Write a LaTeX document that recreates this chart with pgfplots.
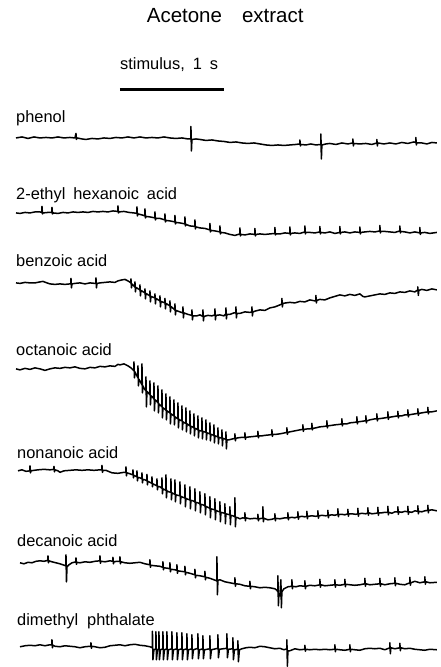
\documentclass[border=0pt]{standalone}
\usepackage{pgfplots}
\pgfplotsset{compat=1.18}
\usepackage{fontspec}
\setmainfont{Liberation Sans}
\newcommand{\lbl}{\fontsize{16.4}{18}\selectfont}
\pgfplotsset{trace/.style={black, line width=1.5pt, line join=round, no markers}}
\begin{document}
\begin{tikzpicture}
\begin{axis}[width=441pt, height=667pt, scale only axis,
  xmin=0, xmax=441, ymin=0, ymax=667, y dir=reverse,
  hide axis, clip=false]
\path (rel axis cs:0,0) rectangle (rel axis cs:1,1);
% title and stimulus
\node[anchor=base west, inner sep=0pt, font=\fontsize{20.5}{22}\selectfont] at (axis cs:146.7,22.7) {Acetone\hspace{20pt}extract};
\node[anchor=base west, inner sep=0pt, font=\lbl] at (axis cs:120,70) {stimulus,\hspace{8pt}1\hspace{8pt}s};
\addplot[black, line width=2.5pt, no markers] coordinates {(120,89.5)(224,89.5)};
% labels
\node[anchor=base west, inner sep=0pt, font=\lbl] at (axis cs:16,123) {phenol};
\node[anchor=base west, inner sep=0pt, font=\lbl] at (axis cs:16,200) {2-ethyl\hspace{8pt}hexanoic\hspace{8pt}acid};
\node[anchor=base west, inner sep=0pt, font=\lbl] at (axis cs:16,267) {benzoic acid};
\node[anchor=base west, inner sep=0pt, font=\lbl] at (axis cs:16,356) {octanoic acid};
\node[anchor=base west, inner sep=0pt, font=\lbl] at (axis cs:17,458.5) {nonanoic acid};
\node[anchor=base west, inner sep=0pt, font=\lbl] at (axis cs:17,546.5) {decanoic acid};
\node[anchor=base west, inner sep=0pt, font=\lbl] at (axis cs:17,625.5) {dimethyl\hspace{9pt}phthalate};
% phenol
\addplot[trace] coordinates {(16,138)(22,137)(28,138.5)(34,137)(40,138)(46,137.5)(52,138)(58,137)(64,138)(70,137.5)(75,138)(76,133.5)(76.5,139.5)(77,138)(82,139)(86,139.5)(92,138.5)(98,139)(104,138)(110,138.5)(116,137.5)(122,138)(128,137)(134,138)(140,137)(146,138)(152,137.5)(158,138)(164,137)(170,138)(176,138.5)(182,138)(188,139)(191,139)(191,126.5)(191.5,151)(192,139.5)(196,139)(200,139.5)(206,140.5)(212,140)(218,141)(224,141.5)(230,142.5)(236,142)(242,143)(248,143.5)(254,143)(260,144)(266,145)(272,145.5)(278,145)(284,145.5)(290,145)(296,144.5)(300,144)(300,140)(300.5,146)(301,144.5)(306,145)(311,144)(316,145)(321,144.5)(321,134)(321.5,159)(322,145)(326,144)(330,143.5)(336,144.5)(342,143)(348,144)(353,143)(353,139)(353.5,146)(354,143.5)(360,144)(366,143.5)(372,144.5)(377,143)(377,139.5)(377.5,146)(378,143)(384,144)(390,143)(396,144)(402,142.5)(408,143.5)(414,142)(416,142.5)(416,137.5)(416.5,145)(417,143)(422,143)(427,144)(432,142.5)(437,143)};
% 2-ethyl hexanoic acid
\addplot[trace] coordinates {(16,213)(20,213.5)(25,212.5)(30,213)(35,212)(40,212)(42,212.5)(42,206.5)(42.5,214)(43,213)(48,212.5)(52,212.5)(52,207.5)(52.5,214)(53,213)(58,213.5)(63,212.5)(68,213)(73,212)(78,212.5)(83,212)(88,212.5)(93,211.5)(98,212)(103,211.5)(108,212)(113,211)(118,211.5)(118,206)(118.5,213)(119,212)(124,211.5)(129,212.5)(134,213)(137,213.5)(137,207)(137.5,216)(138,214)(142,215)(145,216)(145,209)(145.5,218)(146,216.5)(150,217)(155,218)(155,212)(155.5,220)(156,218.5)(160,218.5)(165,220)(165,214)(165.5,222)(166,220.5)(170,221)(175,222)(175,215.5)(175.5,224)(176,222.5)(180,223)(185,224)(185,217)(185.5,226)(186,224.5)(190,226)(195,226.5)(195,220)(195.5,229)(196,227)(200,228)(205,228.5)(210,230)(210,223.5)(210.5,232)(211,230.5)(215,231)(220,232)(220,226)(220.5,234)(221,232.5)(225,233)(230,234.5)(235,235.5)(240,234)(240,228)(240.5,236)(241,234.5)(245,235)(250,234)(255,234.5)(255,228.5)(255.5,236)(256,234.5)(260,234)(265,234.5)(270,234)(275,233.5)(275,227.5)(275.5,235)(276,234)(280,234)(285,233)(290,233.5)(290,227)(290.5,235)(291,233.5)(295,233)(300,233.5)(305,232)(305,226)(305.5,234)(306,232.5)(310,232.5)(315,233)(320,232)(320,226.5)(320.5,234)(321,232.5)(325,233)(330,232)(335,233.5)(340,232.5)(340,226.5)(340.5,234)(341,232.5)(345,232)(350,233)(355,232)(360,232.5)(360,227)(360.5,234)(361,232.5)(365,232)(370,231.5)(375,232)(380,231)(380,225.5)(380.5,233)(381,231.5)(385,231.5)(390,232)(395,232.5)(400,231)(400,226)(400.5,233)(401,231.5)(405,232)(410,233)(415,232)(420,233)(420,227.5)(420.5,234.5)(421,233)(425,232.5)(430,233.5)(437,232.5)};
% benzoic acid
\addplot[trace] coordinates {(16,283)(20,283.5)(25,282.5)(30,283)(35,283)(40,282)(43,281.5)(47,283)(50,284)(55,284.5)(60,284)(65,284.5)(70,284)(71,284)(71,278.5)(71.5,288)(72,284)(75,283.5)(80,283)(85,284)(90,283)(95,283.5)(96,283.5)(96,278)(96.5,288)(97,283.5)(100,283)(105,282.5)(110,282)(115,282.5)(118,281)(122,280)(125,279.5)(128,281)(131,283)(131,279)(131.5,288)(132,284)(135,287)(135,282)(135.5,292)(136,287.5)(140,290)(140,285)(140.5,296)(141,290.5)(145,293)(145,289)(145.5,299)(146,293.5)(150,296)(150,291)(150.5,302)(151,296.5)(155,298)(155,294)(155.5,304)(156,298.5)(160,301)(160,296)(160.5,307)(161,301.5)(165,303)(165,298.5)(165.5,309)(166,303.5)(170,306)(170,301)(170.5,312)(171,306.5)(175,310)(175,304)(175.5,315)(176,310.5)(180,312)(183,313)(183,307)(183.5,318)(184,313)(188,314.5)(192,315.5)(192,310)(192.5,320)(193,316)(197,316)(200,315)(203,316.5)(203,310)(203.5,321)(204,316.5)(208,315.5)(212,316)(215,315)(215,309)(215.5,320)(216,315.5)(220,315)(224,316)(226,314)(226,308)(226.5,319)(227,314.5)(230,314.5)(234,313)(236,313)(236,307)(236.5,318)(237,313.5)(240,313.5)(245,312)(250,312.5)(252,312)(252,307)(252.5,316)(253,312)(256,311)(260,310)(265,310.5)(270,308)(275,307)(280,305)(282,304)(282,298.5)(282.5,307)(283,303.5)(286,303)(290,302.5)(295,303)(300,301.5)(305,302)(310,300)(315,301)(316,300.5)(316,295.5)(316.5,303)(317,300.5)(320,299.5)(325,300)(330,298)(335,296.5)(340,295)(345,296)(350,294.5)(355,295.5)(360,294)(363,296.5)(365,297)(370,296)(375,295)(380,294)(385,294.5)(390,293)(395,293.5)(400,292)(405,292.5)(410,291)(415,292)(418,290)(418,287)(418.5,295.5)(419,290.5)(422,289.5)(427,290.5)(432,289)(437,290)};
% octanoic acid
\addplot[trace] coordinates {(16,369)(20,370)(25,368.5)(30,369.5)(35,368)(40,369)(45,370.5)(50,369)(55,368)(60,368.5)(65,367.5)(70,368)(75,367)(80,368.5)(85,369)(90,367.5)(95,368)(100,366.5)(105,367)(110,366)(115,366.5)(118,364.5)(120,365)(124,364)(128,366)(131,368)
(134,371)(134,362)(134.5,378)(135,372)(136.5,375)
(138,378)(138,366)(138.5,386)(139,379.5)(140.5,382)
(142,385)(142,364)(142.5,393)(143,386)(144.5,389)
(146,391)(146,377)(146.5,407)(147,391.5)(148.5,393)
(150,395)(150,381)(150.5,405)(151,396)(152.5,397)
(154,399)(154,383)(154.5,411)(155,400)(156.5,401)
(158,403)(158,386)(158.5,413)(159,404)(160.5,405.5)
(162,407)(162,390)(162.5,418)(163,408)(164.5,409)
(166,410.5)(166,394)(166.5,420)(167,411)(168.5,412)
(170,413)(170,397)(170.5,424)(171,414)(172.5,415)
(174,416)(174,400)(174.5,425)(175,417)(176.5,418)
(178,419)(178,403)(178.5,428)(179,419.5)(180.5,420.5)
(182,421)(182,406)(182.5,430)(183,422)(184.5,423)
(186,423.5)(186,408)(186.5,432)(187,424)(188.5,425)
(190,426)(190,411)(190.5,434)(191,426.5)(192.5,427)
(194,428)(194,414)(194.5,436)(195,428.5)(196.5,429)
(198,430)(198,416)(198.5,438)(199,430.5)(200.5,431)
(202,431)(202,418)(202.5,439)(203,431.5)(204.5,432)
(206,432.5)(206,420)(206.5,440)(207,433)(208.5,433.5)
(210,434)(210,423)(210.5,441)(211,434.5)(212.5,435)
(214,435.5)(214,425)(214.5,443)(215,436)(216.5,436.5)
(218,437)(218,428)(218.5,444)(219,437.5)(220.5,438)
(222,438)(222,430)(222.5,446)(223,438.5)(224.5,439)
(226,439.5)(226,432)(226.5,449)(227,440)(229,440)
(233,439)(235,438.5)(235,434)(235.5,441)(236,438.5)(238,438)(242,437.5)(245,437.5)(245,433)(245.5,439.5)(246,437.5)(250,437)(255,436.5)(258,436)(258,431.5)(258.5,438)(259,436)(262,436)(265,435.5)(270,435)(272,434.5)(272,430)(272.5,436.5)(273,434.5)(276,434.5)(280,434)(285,433)(287,432.5)(287,428)(287.5,434.5)(288,432.5)(290,432)(295,431)(300,430)(303,429.5)(303,425)(303.5,431.5)(304,429.5)(308,429)(310,429)(312,428.5)(312,423.5)(312.5,430)(313,428.5)(316,428)(320,427)(325,426.5)(327,426)(327,421)(327.5,428)(328,426)(332,425.5)(335,425)(340,424.5)(342,424)(342,419)(342.5,426)(343,424)(347,424)(350,423)(355,422.5)(357,422)(357,417)(357.5,424)(358,422)(362,421.5)(365,421)(366,421)(366,416)(366.5,423)(367,421)(370,420)(375,419)(377,419)(377,414)(377.5,421)(378,419)(382,418.5)(385,418)(388,417.5)(388,412)(388.5,419.5)(389,417.5)(392,417)(395,416.5)(398,416)(398,411.5)(398.5,418)(399,416)(402,416)(405,415)(408,415)(408,410)(408.5,417)(409,415)(412,414.5)(415,414)(418,413.5)(418,409)(418.5,415.5)(419,413.5)(422,413)(425,412.5)(428,412)(428,407.5)(428.5,414)(429,412)(432,412)(437,411)};
% nonanoic acid
\addplot[trace] coordinates {(18,471)(22,470)(26,471.5)(30,471)(30,466)(30.5,473)(31,471)(34,470.5)(38,470)(44,469.5)(50,470)(54,469.5)(54,466.5)(54.5,472)(55,470)(58,471)(60,472.5)(64,471)(70,470.5)(76,470)(82,470.5)(88,470)(94,470.5)(100,470)(102,470)(102,465.5)(102.5,472.5)(103,470.5)(106,470.5)(112,473)(118,473.5)(124,472.5)(126,472.5)(126,467)(126.5,476)(127,473)(130,474)(133,475)(133,470)(133.5,478)(134,475.5)
(137,477)(137,471)(137.5,481)(138,477.5)(140,478)
(142,479)(142,473)(142.5,483)(143,479.5)(145,480)
(147,481)(147,474.5)(147.5,485)(148,481.5)(150,482.5)
(152,483.5)(152,477)(152.5,487)(153,484)(155,485)
(157,486)(157,479)(157.5,490)(158,486.5)(160,487)
(162,488.5)(162,478)(162.5,494)(163,489)(165,490)
(166,490.5)(166,475)(166.5,498)(167,491)(169,492)
(171,492.5)(171,479)(171.5,500)(172,493)(174,494)
(175,494.5)(175,480)(175.5,502)(176,495)(178,495.5)
(180,496)(180,482)(180.5,504)(181,496.5)(183,497.5)
(185,498)(185,485)(185.5,507)(186,498.5)(188,499.5)
(190,500)(190,487)(190.5,509)(191,500.5)(193,501)
(195,502)(195,489)(195.5,511)(196,502.5)(198,503)
(200,504)(200,492)(200.5,513)(201,504.5)(203,505)
(205,506)(205,494)(205.5,515)(206,506.5)(208,507.5)
(210,508.5)(210,497)(210.5,518)(211,509)(213,509.5)
(215,510)(215,499)(215.5,520)(216,510.5)(218,511.5)
(220,512)(220,502)(220.5,522)(221,512.5)(223,513)
(225,513.5)(225,504)(225.5,524)(226,514)(228,514.5)
(230,515)(230,507)(230.5,525)(231,515.5)(233,516)
(235,517)(235,498)(235.5,527)(236,517.5)(238,518)
(240,519)(243,518)(245,518.5)(245,513)(245.5,521)(246,518)(250,519)(255,518.5)(258,519)(258,514.5)(258.5,521)(259,519)(262,518.5)(263,518.5)(263,507)(263.5,522)(264,518.5)(268,520)(272,519.5)(275,518.5)(275,514)(275.5,521)(276,518.5)(280,519)(285,518)(288,518)(288,513)(288.5,520)(289,518)(292,517.5)(295,518)(298,517)(298,512)(298.5,519.5)(299,517)(302,516.5)(305,517)(307,516.5)(307,511.5)(307.5,519)(308,516.5)(312,516)(316,516.5)(318,516)(318,511)(318.5,518.5)(319,516)(322,515.5)(326,516)(328,515.5)(328,510.5)(328.5,518)(329,515.5)(332,515)(335,515.5)(338,514.5)(338,509)(338.5,517)(339,514.5)(342,514.5)(345,515)(348,514)(348,509.5)(348.5,516.5)(349,514)(352,514)(356,514.5)(358,514)(358,508.5)(358.5,516.5)(359,514)(362,513.5)(366,514)(368,513)(368,508)(368.5,515.5)(369,513)(372,514)(376,513.5)(378,513)(378,507.5)(378.5,515.5)(379,513)(382,513)(385,512.5)(388,512.5)(388,506.5)(388.5,515)(389,512.5)(392,513.5)(395,512)(398,512)(398,507)(398.5,514.5)(399,512)(402,512.5)(405,511.5)(408,512)(408,506.5)(408.5,514.5)(409,512)(412,512.5)(415,511)(418,511.5)(418,506)(418.5,514)(419,511.5)(422,512)(425,511)(428,510.5)(428,505.5)(428.5,513)(429,510.5)(432,510)(437,511)};
% decanoic acid
\addplot[trace] coordinates {(20,563)(24,564)(28,562.5)(32,563)(36,561.5)(40,561)(44,561.5)(48,560.5)(48,556)(48.5,563)(49,561)(52,562)(56,563)(60,564)(63,565)(66,566)(66,555)(66.5,582)(67,567)(69,565)(72,563)(76,562)(76,558)(76.5,564.5)(77,562.5)(80,563)(85,562)(90,562.5)(95,561.5)(100,561)(100,556)(100.5,563.5)(101,561.5)(105,562)(110,561)(113,561.5)(113,557.5)(113.5,564)(114,562)(117,561.5)(120,561.5)(120,557)(120.5,564)(121,562)(125,563)(130,563.5)(135,563)(140,562.5)(145,564)(150,565)(150,560)(150.5,567.5)(151,565.5)(155,566)(160,566.5)(163,567.5)(163,562)(163.5,570)(164,568)(168,568.5)(170,569)(170,563)(170.5,572)(171,569.5)(175,570)(177,570.5)(177,565)(177.5,573.5)(178,571)(181,571.5)(185,572)(185,566.5)(185.5,575)(186,572.5)(190,573.5)(195,575)(195,569.5)(195.5,578)(196,575.5)(200,576)(205,577)(205,571.5)(205.5,580)(206,577.5)(210,578.5)(214,580)(217,581)(217,557)(217.5,595)(218,580.5)(220,580)(225,582)(230,583)(235,584)(235,578)(235.5,586.5)(236,584)(240,584.5)(245,586)(250,586.5)(250,581.5)(250.5,589)(251,586.5)(255,587)(260,588)(265,587.5)(270,588)(275,589)(277,590.5)(278,592)(278,576)(278.5,606)(279,594)(280,596)(281,580)(281.5,608)(282,592)(284,589)(288,587)(292,586.5)(292,580)(292.5,589)(293,586.5)(296,587)(300,586)(305,586.5)(305,581)(305.5,589)(306,586.5)(310,585.5)(315,586)(320,585)(320,579.5)(320.5,587.5)(321,585)(325,586)(330,585.5)(335,585)(335,580)(335.5,587.5)(336,585)(340,585.5)(345,584.5)(345,579.5)(345.5,587)(346,584.5)(350,585)(355,585.5)(360,585)(365,584)(365,578.5)(365.5,586.5)(366,584)(370,585)(375,584.5)(380,584)(380,578.5)(380.5,586.5)(381,584)(385,585)(390,584)(395,583.5)(395,578)(395.5,586)(396,583.5)(400,584.5)(405,585)(410,583)(410,577.5)(410.5,585.5)(411,583)(415,581.5)(420,583)(425,582)(425,577)(425.5,584.5)(426,582)(430,583)(437,582.5)};
% dimethyl phthalate
\addplot[trace] coordinates {(20,647)(25,646)(30,645.5)(35,646)(40,645)(45,646)(50,645)(52,645)(52,640)(52.5,648)(53,645.5)(55,646.5)(60,647)(65,646)(70,646.5)(75,647)(80,648)(85,647)(90,646.5)(91,646.5)(91,643)(91.5,648.5)(92,646.5)(95,647)(100,648)(105,647.5)(110,646)(115,645.5)(120,645)(125,646)(130,645)(135,644.5)(140,645.5)(145,646)(150,647)
(152.5,648)(152.5,631.5)(153,660)(154,650)
(156,649)(156,632)(156.5,660)(157.5,650)
(159,649)(159,632)(159.5,660)(160.5,650)
(163,649)(163,632)(163.5,660)(164.5,650)
(167,649)(167,632)(167.5,660)(168.5,650)
(172,649)(172,632)(172.5,660)(173.5,650)
(177,649)(177,633)(177.5,660)(178.5,650)
(182,649)(182,633)(182.5,660)(183.5,650)
(187,649)(187,634)(187.5,660)(188.5,650)
(192,649)(192,635)(192.5,659)(193.5,650)
(198,648.5)(198,634)(198.5,659)(199.5,650)
(203,649)(203,636)(203.5,659)(204.5,650)
(210,649)(210,636)(210.5,659)(211.5,650)
(218,648.5)(218,635)(218.5,658)(219.5,649.5)
(227,648.5)(227,634)(227.5,658)(228.5,649.5)
(233,649)(233,638)(233.5,660)(234.5,650)
(238,649.5)(238,641)(238.5,662)(239.5,650)
(242,649)(246,648)(250,647.5)(255,648)(260,646.5)(265,647)(270,648)(275,649)(280,648.5)(284,650)(287,649)(287,640)(287.5,666.5)(288,651)(290,651)(295,649)(300,650)(305,649.5)(305,645.5)(305.5,651.5)(306,649.5)(310,650)(315,649.5)(320,650)(325,649.5)(330,650)(335,649.5)(335,645)(335.5,652)(336,649.5)(340,650)(345,650.5)(350,649.5)(350,645)(350.5,652)(351,649.5)(355,650)(360,650.5)(365,649)(370,648.5)(375,649)(380,648.5)(385,650)(390,648)(390,643)(390.5,654)(391,648)(395,649)(400,648)(400,643.5)(400.5,651)(401,648)(405,649)(410,648.5)(415,649.5)(420,650)(425,650.5)(430,649.5)(437,650)};
\end{axis}
\end{tikzpicture}
\end{document}
